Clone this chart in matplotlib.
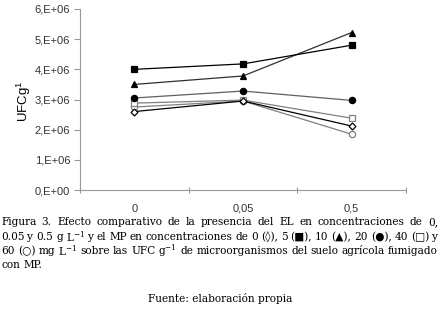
import matplotlib
matplotlib.use("Agg")
import matplotlib.pyplot as plt

categories = ["0", "0,05", "0,5"]
mp_0 = [2.60e6, 2.95e6, 2.12e6]
mp_5 = [4.00e6, 4.18e6, 4.80e6]
mp_10 = [3.50e6, 3.78e6, 5.22e6]
mp_20 = [3.05e6, 3.28e6, 2.97e6]
mp_40 = [2.88e6, 2.98e6, 2.38e6]
mp_60 = [2.75e6, 2.95e6, 1.85e6]
yticks = [0, 1e6, 2e6, 3e6, 4e6, 5e6, 6e6]
ytick_labels = ["0,E+00", "1,E+06", "2,E+06", "3,E+06", "4,E+06", "5,E+06", "6,E+06"]

W, H = 440, 313
fig = plt.figure(figsize=(W / 100, H / 100), dpi=100)
ax = fig.add_axes([80 / W, 1 - 190 / H, (406 - 80) / W, (190 - 9) / H])

x = list(range(len(categories)))
series = [
    (mp_60, "o", "white", "#808080", "#808080", 4.5),
    (mp_40, "s", "white", "#808080", "#808080", 4.5),
    (mp_0, "D", "white", "black", "black", 3.5),
    (mp_20, "o", "black", "black", "#606060", 4.5),
    (mp_10, "^", "black", "black", "#303030", 5),
    (mp_5, "s", "black", "black", "black", 4.5),
]
for vals, m, fc, ec, lc, ms in series:
    ax.plot(x, vals, color=lc, lw=0.9, marker=m, markerfacecolor=fc,
            markeredgecolor=ec, markersize=ms, markeredgewidth=0.9)

ax.set_xlim(-0.5, 2.5)
ax.set_ylim(0, 6e6)
ax.set_yticks(yticks)
ax.set_yticklabels(ytick_labels, fontsize=8, family="Liberation Sans", color="#333333")
ax.set_xticks([-0.5, 0.5, 1.5, 2.5])
ax.set_xticklabels([])
ax.set_xticks(x, minor=True)
ax.set_xticklabels(categories, minor=True, fontsize=8, family="Liberation Sans", color="#333333")
ax.tick_params(axis="x", which="minor", length=0, pad=10)
ax.tick_params(axis="x", which="major", length=4, color="#999999", direction="inout")
ax.tick_params(axis="y", length=4, color="#999999", pad=3)
for s in ["top", "right"]:
    ax.spines[s].set_visible(False)
for s in ["left", "bottom"]:
    ax.spines[s].set_color("#999999")
    ax.spines[s].set_linewidth(0.8)
ax.set_ylabel(r"UFCg$^{\mathregular{1}}$", fontsize=9.5, family="Liberation Sans")
ax.yaxis.set_label_coords((33 - 80) / 326, 0.49)

# caption (justified)
cap_fam = ["DejaVu Serif", "DejaVu Sans"]
cap_size = 7.6
lines = [
    ("Figura 3. Efecto comparativo de la presencia del EL en concentraciones de 0,", 222, True),
    (r"0.05 y 0.5 g L$^{\mathregular{-1}}$ y el MP en concentraciones de 0 (◊), 5 (■), 10 (▲), 20 (●), 40 (□) y", 237, True),
    (r"60 (○) mg L$^{\mathregular{-1}}$ sobre las UFC g$^{\mathregular{-1}}$ de microorganismos del suelo agrícola fumigado", 251, True),
    ("con MP.", 265, False),
]
fig.canvas.draw()
renderer = fig.canvas.get_renderer()
x0, x1 = 1, 438
for txt, ypx, just in lines:
    words = txt.split(" ")
    yf = 1 - ypx / H
    arts = [fig.text(0, yf, w, fontsize=cap_size, family=cap_fam, va="center", ha="left") for w in words]
    widths = [a.get_window_extent(renderer).width for a in arts]
    if just and len(words) > 1:
        gap = ((x1 - x0) - sum(widths)) / (len(words) - 1)
    else:
        gap = 3.2
    cur = x0
    for a, w in zip(arts, widths):
        a.set_x(cur / W)
        cur += w + gap

fig.text(220 / W, 1 - 298 / H, "Fuente: elaboración propia", fontsize=cap_size,
         family=cap_fam, ha="center", va="center")

fig.savefig("out.png", dpi=100)
